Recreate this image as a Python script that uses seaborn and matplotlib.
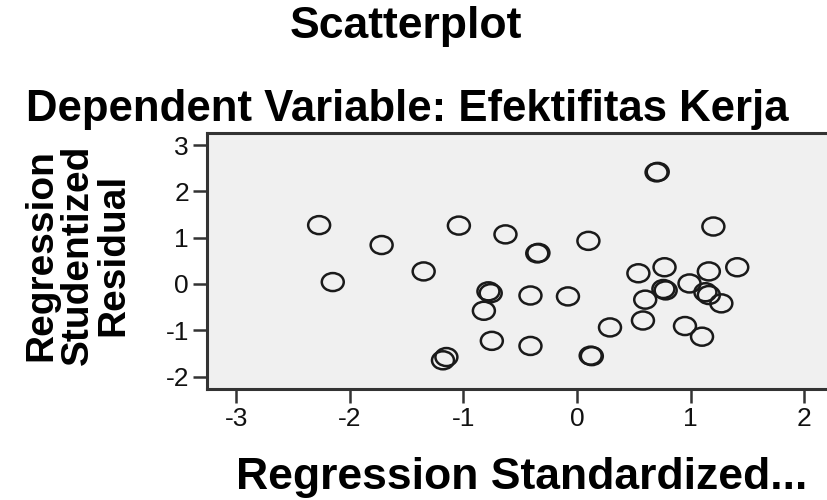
import numpy as np
import pandas as pd
import matplotlib
matplotlib.use('Agg')
import matplotlib.pyplot as plt
from matplotlib.path import Path
import seaborn as sns

# Residual plot values
std_predicted = [-2.27, -2.15, -1.72, -1.35, -1.04, -0.63, -0.78, -0.76,
                 -0.82, -0.75, -1.15, -1.18, 0.70, 0.71, 1.20, 0.10,
                 -0.35, -0.34, 0.54, 0.77, 1.16, 1.41, 0.99, 0.76,
                 0.78, 1.13, 1.16, 1.27, 0.60, -0.41, -0.08, -0.41,
                 0.29, 0.58, 0.95, 1.10, 0.12, 0.13]
stud_residual = [1.27, 0.04, 0.84, 0.27, 1.26, 1.07, -0.16, -0.20,
                 -0.58, -1.23, -1.58, -1.65, 2.41, 2.42, 1.24, 0.93,
                 0.66, 0.67, 0.23, 0.36, 0.27, 0.36, 0.01, -0.11,
                 -0.14, -0.18, -0.24, -0.42, -0.34, -0.25, -0.27, -1.34,
                 -0.94, -0.79, -0.91, -1.14, -1.55, -1.56]
x_ticks = [-3, -2, -1, 0, 1, 2]
y_ticks = [-2, -1, 0, 1, 2, 3]

df = pd.DataFrame({'pred': std_predicted, 'resid': stud_residual})

sns.set_theme(style='white')
plt.rcParams['font.family'] = ['Liberation Sans', 'DejaVu Sans']
plt.rcParams['axes.unicode_minus'] = False
plt.rcParams['text.color'] = 'black'

fig = plt.figure(figsize=(8.27, 5.0), dpi=100)
ax = fig.add_axes([207 / 827, 1 - 389 / 500, 620 / 827, 256 / 500])

# slightly flattened open circle, like the stretched SPSS marker
circle = Path.unit_circle()
ring = Path(circle.vertices * np.array([1.0, 0.82]), circle.codes)

sns.scatterplot(data=df, x='pred', y='resid', ax=ax, marker=ring, s=250,
                facecolor='none', edgecolor='#1a1a1a', linewidth=1.8)

ax.set_facecolor('#f0f0f0')
ax.set_xlim(-3.257, 2.20)
ax.set_ylim(-2.27, 3.26)
ax.set_xticks(x_ticks)
ax.set_yticks(y_ticks)
ax.tick_params(direction='out', length=10, width=1.8, color='#333333',
               labelcolor='#111111', labelsize=19, pad=3,
               bottom=True, left=True)
for side in ['left', 'bottom', 'top']:
    ax.spines[side].set_color('#333333')
    ax.spines[side].set_linewidth(2.2)
ax.spines['right'].set_visible(False)

ax.set_xlabel('')
ax.set_ylabel('')

fig.text(0.491, 0.947, 'Scatterplot', ha='center', va='center',
         fontsize=32, fontweight='bold')
fig.text(0.492, 0.782, 'Dependent Variable: Efektifitas Kerja', ha='center',
         va='center', fontsize=31.5, fontweight='bold')
fig.text(0.631, 0.045, 'Regression Standardized...', ha='center',
         va='center', fontsize=32, fontweight='bold')
fig.text(0.094, 0.49, 'Regression\nStudentized\nResidual', ha='center',
         va='center', rotation=90, fontsize=28, fontweight='bold',
         linespacing=1.0)

fig.savefig('out.png', dpi=100)
